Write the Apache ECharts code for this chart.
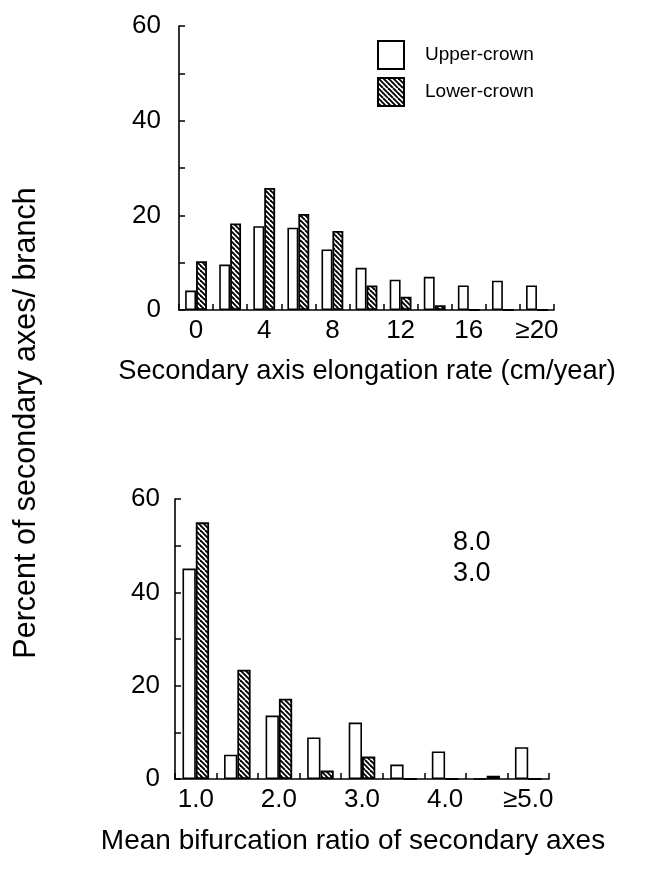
<!DOCTYPE html>
<html><head><meta charset="utf-8">
<script src="https://cdn.jsdelivr.net/npm/echarts@6/dist/echarts.min.js"></script>
<style>html,body{margin:0;padding:0;background:#fff}#c{width:646px;height:872px}</style>
</head><body><div id="c"></div>
<script>
// ---- data ----
const topCategories = ['0','2','4','6','8','10','12','14','16','18','≥20'];
const topUpper = [4.1, 9.6, 17.7, 17.4, 12.8, 8.9, 6.4, 7.0, 5.2, 6.2, 5.2];
const topLower = [10.3, 18.3, 25.8, 20.3, 16.7, 5.2, 2.8, 1.0, 0, 0, 0];
const botCategories = ['1.0','1.5','2.0','2.5','3.0','3.5','4.0','4.5','≥5.0'];
const botUpper = [45.1, 5.2, 13.6, 8.9, 12.1, 3.1, 5.9, 0, 6.8];
const botLower = [55.0, 23.4, 17.2, 1.8, 4.8, 0, 0, 0.7, 0];
const yMin = 0, yMax = 60, yTickStep = 10, yLabelStep = 20;
const seriesNames = ['Upper-crown', 'Lower-crown'];
const annotations = ['8.0', '3.0'];
const topXTitle = 'Secondary axis elongation rate (cm/year)';
const botXTitle = 'Mean bifurcation ratio of secondary axes';
const yTitle = 'Percent of secondary axes/ branch';

// ---- styles ----
const FONT = 'Liberation Sans, Arial, sans-serif';
const P = 10;
const pc = document.createElement('canvas'); pc.width = P; pc.height = P;
const g = pc.getContext('2d');
g.fillStyle = '#fff'; g.fillRect(0, 0, P, P);
g.strokeStyle = '#000'; g.lineWidth = 1.9;
for (let k = -P; k <= P; k += P / 2) { g.beginPath(); g.moveTo(k, 0); g.lineTo(k + P, P); g.stroke(); }
const hatch = { image: pc, repeat: 'repeat' };

const upperStyle = { color: '#fff', borderColor: '#000', borderWidth: 1.6 };
const lowerStyle = { color: hatch, borderColor: '#000', borderWidth: 1.8 };

function xAxisCfg(idx, cats) {
  return {
    type: 'category', gridIndex: idx, data: cats,
    axisLine: { show: true, lineStyle: { color: '#000', width: 1.6 } },
    axisTick: { show: true, inside: true, length: 6, interval: 0, lineStyle: { color: '#000', width: 1.5 } },
    axisLabel: { interval: 1, color: '#000', fontSize: 26, fontFamily: FONT, margin: 8 },
    splitLine: { show: false }
  };
}
function yAxisCfg(idx, margin) {
  return {
    type: 'value', gridIndex: idx, min: yMin, max: yMax, interval: yTickStep,
    axisLine: { show: true, lineStyle: { color: '#000', width: 1.6 } },
    axisTick: { show: true, inside: true, length: 6, lineStyle: { color: '#000', width: 1.5 } },
    splitLine: { show: false },
    axisLabel: {
      color: '#000', fontSize: 26, fontFamily: FONT, margin: margin,
      formatter: v => (v % yLabelStep === 0 ? String(v) : '')
    }
  };
}
function bar(name, data, idx, style) {
  return {
    type: 'bar', name, data, xAxisIndex: idx, yAxisIndex: idx,
    barWidth: '32%', barGap: '0%', itemStyle: style, animation: false
  };
}

const chart = echarts.init(document.getElementById('c'), null, { renderer: 'canvas' });
chart.setOption({
  animation: false,
  backgroundColor: '#fff',
  grid: [
    { left: 179, width: 375, top: 26, height: 284 },
    { left: 175, width: 374, top: 499, height: 280 }
  ],
  xAxis: [xAxisCfg(0, topCategories), xAxisCfg(1, botCategories)],
  yAxis: [yAxisCfg(0, 18), yAxisCfg(1, 15)],
  legend: {
    data: seriesNames, orient: 'vertical', left: 372, top: 35,
    itemWidth: 26, itemHeight: 28, itemGap: 7,
    icon: 'rect',
    textStyle: { color: '#000', fontSize: 19, fontFamily: FONT, padding: [0, 0, 0, 16] },
    selectedMode: false
  },
  series: [
    bar(seriesNames[0], topUpper, 0, upperStyle),
    bar(seriesNames[1], topLower, 0, lowerStyle),
    bar(seriesNames[0], botUpper, 1, upperStyle),
    bar(seriesNames[1], botLower, 1, lowerStyle)
  ],
  graphic: [
    { type: 'text', x: 367, y: 371, style: { text: topXTitle, fontSize: 27.3, fontFamily: FONT, fill: '#000', textAlign: 'center', textVerticalAlign: 'middle' } },
    { type: 'text', x: 353, y: 841, style: { text: botXTitle, fontSize: 28, fontFamily: FONT, fill: '#000', textAlign: 'center', textVerticalAlign: 'middle' } },
    { type: 'text', x: 27, y: 423, rotation: Math.PI / 2, style: { text: yTitle, fontSize: 30.5, fontFamily: FONT, fill: '#000', textAlign: 'center', textVerticalAlign: 'middle' } },
    { type: 'text', x: 453, y: 543, style: { text: annotations[0], fontSize: 27, fontFamily: FONT, fill: '#000', textAlign: 'left', textVerticalAlign: 'middle' } },
    { type: 'text', x: 453, y: 574, style: { text: annotations[1], fontSize: 27, fontFamily: FONT, fill: '#000', textAlign: 'left', textVerticalAlign: 'middle' } }
  ]
});
</script>
</body></html>
